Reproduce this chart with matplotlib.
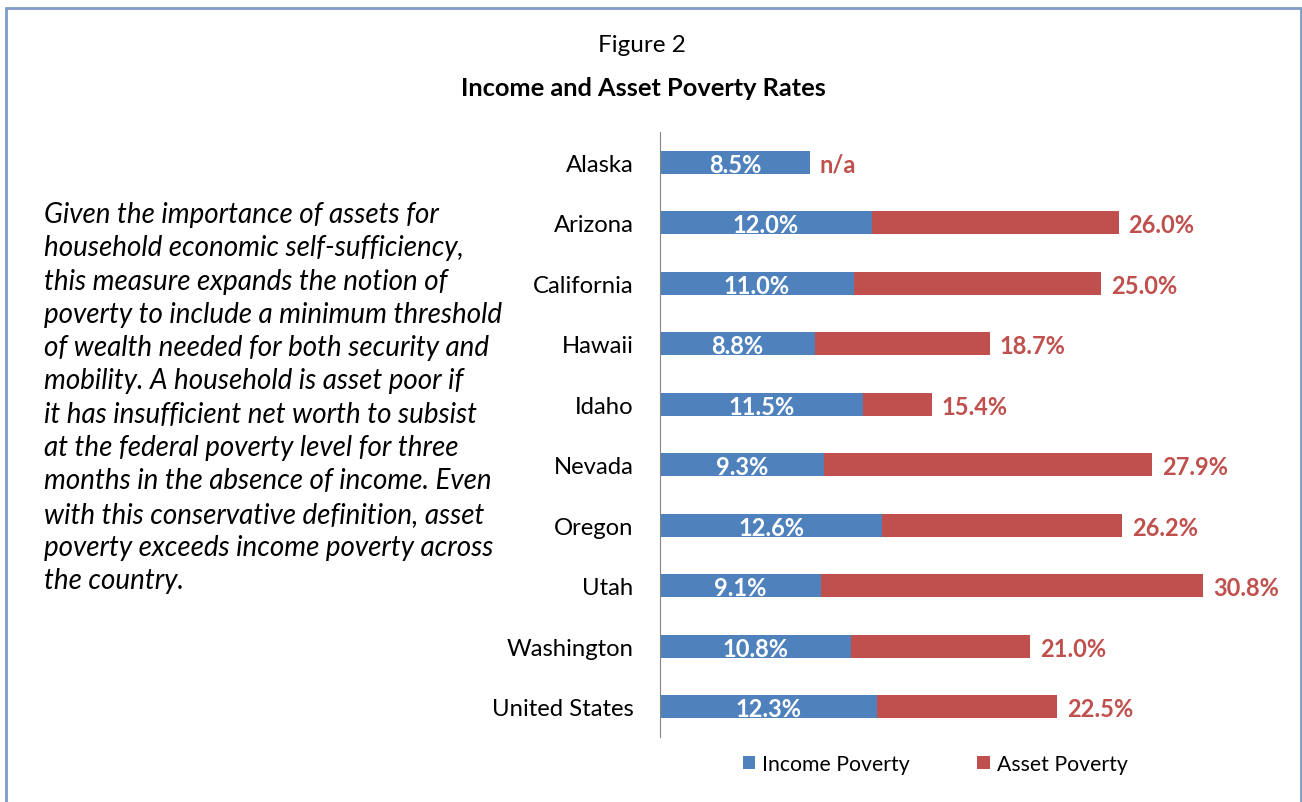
import numpy as np
import matplotlib.pyplot as plt
from matplotlib.patches import Rectangle

plt.rcParams['font.family'] = ['Lato', 'DejaVu Sans']

states = ['Alaska', 'Arizona', 'California', 'Hawaii', 'Idaho', 'Nevada',
          'Oregon', 'Utah', 'Washington', 'United States']
income = [8.5, 12.0, 11.0, 8.8, 11.5, 9.3, 12.6, 9.1, 10.8, 12.3]
asset = [np.nan, 26.0, 25.0, 18.7, 15.4, 27.9, 26.2, 30.8, 21.0, 22.5]

note = ['Given the importance of assets for',
        'household economic self-sufficiency,',
        'this measure expands the notion of',
        'poverty to include a minimum threshold',
        'of wealth needed for both security and',
        'mobility. A household is asset poor if',
        'it has insufficient net worth to subsist',
        'at the federal poverty level for three',
        'months in the absence of income. Even',
        'with this conservative definition, asset',
        'poverty exceeds income poverty across',
        'the country.']

blue = '#4F81BD'
red = '#C0504D'

fig = plt.figure(figsize=(13.02, 8.03), dpi=100)

# frame around the figure
fig.patches.append(Rectangle((6 / 1302, -0.01), 1295 / 1302, 1 - 9 / 803 + 0.01,
                             transform=fig.transFigure, fill=False,
                             edgecolor='#7F9CC8', lw=2))

fig.text(642 / 1302, 1 - 45 / 803, 'Figure 2', ha='center', va='center', fontsize=17.5)
fig.text(643 / 1302, 1 - 88 / 803, 'Income and Asset Poverty Rates', ha='center',
         va='center', fontsize=18.3, fontweight='bold')

for i, line in enumerate(note):
    fig.text(44 / 1302, 1 - (215 + i * 33.3) / 803, line, ha='left', va='center',
             fontsize=20, style='italic')

ax = fig.add_axes([660 / 1302, 1 - 738 / 803, 635 / 1302, 605 / 803])
y = np.arange(len(states))
inc = np.array(income)
ast = np.array(asset)
extra = np.where(np.isnan(ast), 0, ast - inc)

ax.barh(y, inc, height=0.385, color=blue, label='Income Poverty')
ax.barh(y, extra, left=inc, height=0.385, color=red, label='Asset Poverty')

for i in range(len(states)):
    ax.text(inc[i] / 2, y[i], f'{inc[i]:.1f}%', ha='center', va='center_baseline',
            color='white', fontweight='bold', fontsize=17)
    if np.isnan(ast[i]):
        ax.annotate('n/a', (inc[i], y[i]), xytext=(10, 0), textcoords='offset pixels',
                    ha='left', va='center_baseline', color=red, fontweight='bold',
                    fontsize=17)
    else:
        ax.annotate(f'{ast[i]:.1f}%', (ast[i], y[i]), xytext=(10, 0),
                    textcoords='offset pixels', ha='left', va='center_baseline',
                    color=red, fontweight='bold', fontsize=17)

ax.set_xlim(0, 36)
ax.set_ylim(len(states) - 0.5, -0.5)
ax.set_yticks(y)
ax.set_yticklabels(states, fontsize=17.2)
ax.tick_params(axis='y', length=0, pad=19)
ax.set_xticks([])
for s in ['top', 'right', 'bottom']:
    ax.spines[s].set_visible(False)
ax.spines['left'].set_color('#868686')

fig.legend(loc='center', bbox_to_anchor=(935 / 1302, 1 - 765 / 803), ncol=2,
           frameon=False, fontsize=15.3, handlelength=0.6, handleheight=0.6,
           columnspacing=3.2, handletextpad=0.3)

fig.savefig('out.png', dpi=100)
